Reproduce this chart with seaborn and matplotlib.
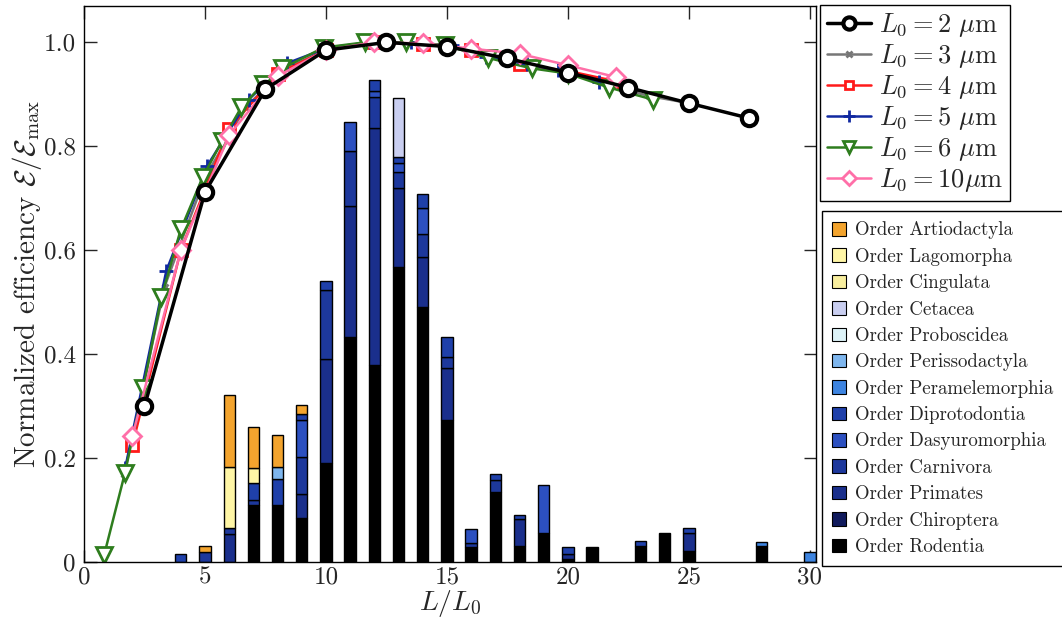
import matplotlib
matplotlib.use("Agg")
import matplotlib.pyplot as plt
from matplotlib.patches import Patch
import pandas as pd
import seaborn as sns

# ---------------- efficiency curves (x = L/L0, y = E/E_max) ----------------
x_l2 = [2.5, 5, 7.5, 10, 12.5, 15, 17.5, 20, 22.5, 25, 27.5]
y_l2 = [0.30, 0.712, 0.910, 0.985, 1.0, 0.992, 0.969, 0.942, 0.913, 0.883, 0.854]

x_l3 = [1.67, 3.33, 5.0, 6.67, 8.33, 10.0, 11.67, 13.33, 15.0, 16.67, 18.33, 20.0, 21.67, 23.33, 25.0]
y_l3 = [0.17, 0.53, 0.74, 0.875, 0.95, 0.985, 1.0, 1.0, 0.993, 0.975, 0.955, 0.943, 0.918, 0.897, 0.883]

x_l4 = [2, 4, 6, 8, 10, 12, 14, 16, 18, 20, 22]
y_l4 = [0.225, 0.60, 0.834, 0.94, 0.985, 1.0, 0.997, 0.985, 0.958, 0.945, 0.925]

x_l5 = [1.7, 3.4, 5.1, 6.8, 8.4, 10.1, 11.8, 13.5, 15.2, 16.6, 18.3, 19.6, 21.3]
y_l5 = [0.18, 0.56, 0.763, 0.89, 0.96, 0.99, 1.0, 1.0, 0.994, 0.972, 0.958, 0.946, 0.923]

x_l6 = [0.83, 1.69, 2.45, 3.2, 4.0, 4.9, 5.7, 6.5, 7.4, 8.2, 9.9, 11.6, 13.3, 14.9, 16.7, 18.5, 20.0, 21.7, 23.5]
y_l6 = [0.013, 0.171, 0.335, 0.51, 0.64, 0.74, 0.81, 0.875, 0.92, 0.95, 0.99, 1.0, 1.0, 0.995, 0.97, 0.95, 0.94, 0.913, 0.89]

x_l10 = [2, 4, 6, 8, 10, 12, 14, 16, 18, 20, 22]
y_l10 = [0.242, 0.60, 0.822, 0.935, 0.985, 1.0, 0.998, 0.988, 0.978, 0.956, 0.933]

# ---------------- mammal orders histogram (stacked, x = 4 ... 30) ----------------
bar_x = list(range(4, 31))
orders = ["Artiodactyla", "Lagomorpha", "Cingulata", "Cetacea", "Proboscidea",
          "Perissodactyla", "Peramelemorphia", "Diprotodontia", "Dasyuromorphia",
          "Carnivora", "Primates", "Chiroptera", "Rodentia"]
order_colors = ["#F3A42E", "#FFF6A6", "#F8EE9E", "#C9CEF0", "#DDF3F8",
                "#7EB6EE", "#3D84E0", "#1F40AA", "#2C50C0",
                "#1D389C", "#1A2F8C", "#101A5C", "#000000"]

#                 4      5      6      7      8      9      10     11     12     13     14     15     16     17     18     19     20     21  22  23     24     25     26 27 28     29 30
artiodactyla = [0,     0.011, 0.138, 0.080, 0.061, 0.018, 0,     0,     0,     0,     0,     0,     0,     0,     0,     0,     0,     0,  0,  0,     0,     0,     0, 0, 0,     0, 0]
lagomorpha   = [0,     0,     0.118, 0.028, 0,     0,     0,     0,     0,     0,     0,     0,     0,     0,     0,     0,     0,     0,  0,  0,     0,     0,     0, 0, 0,     0, 0]
cingulata    = [0] * 27
cetacea      = [0,     0,     0,     0,     0,     0,     0,     0,     0,     0.113, 0,     0,     0,     0,     0,     0,     0,     0,  0,  0,     0,     0,     0, 0, 0,     0, 0]
proboscidea  = [0] * 27
perisso      = [0,     0,     0,     0,     0.023, 0,     0,     0,     0,     0,     0,     0,     0,     0,     0,     0,     0,     0,  0,  0,     0,     0,     0, 0, 0,     0, 0]
peramele     = [0,     0,     0,     0,     0,     0,     0,     0,     0,     0,     0,     0,     0,     0,     0,     0,     0,     0,  0,  0,     0,     0,     0, 0, 0.008, 0, 0.02]
diproto      = [0.015, 0,     0,     0.032, 0.050, 0.011, 0.017, 0,     0.021, 0.012, 0.027, 0.039, 0,     0.012, 0.007, 0,     0.014, 0,  0,  0.010, 0,     0.010, 0, 0, 0,     0, 0]
dasyuro      = [0,     0,     0,     0,     0,     0.071, 0,     0.056, 0.012, 0.017, 0.050, 0,     0.027, 0,     0,     0.093, 0,     0,  0,  0,     0,     0,     0, 0, 0,     0, 0]
carnivora    = [0,     0.020, 0.012, 0.010, 0,     0.072, 0.133, 0.105, 0.059, 0.031, 0.044, 0.021, 0.008, 0.023, 0,     0,     0,     0,  0,  0,     0,     0,     0, 0, 0,     0, 0]
primates     = [0,     0,     0.053, 0,     0,     0.045, 0.200, 0.252, 0.455, 0.152, 0.097, 0.100, 0,     0,     0.053, 0,     0.010, 0,  0,  0,     0,     0.034, 0, 0, 0,     0, 0]
chiroptera   = [0] * 27
rodentia     = [0,     0,     0,     0.110, 0.110, 0.085, 0.190, 0.433, 0.380, 0.567, 0.490, 0.273, 0.029, 0.135, 0.030, 0.055, 0.005, 0.028, 0, 0.030, 0.055, 0.022, 0, 0, 0.030, 0, 0]

order_values = [artiodactyla, lagomorpha, cingulata, cetacea, proboscidea, perisso,
                peramele, diproto, dasyuro, carnivora, primates, chiroptera, rodentia]

bars = pd.DataFrame(
    [(x, "Order " + name, v)
     for name, vals in zip(orders, order_values)
     for x, v in zip(bar_x, vals)],
    columns=["x", "order", "value"],
)
labels = ["Order " + o for o in orders]
palette = dict(zip(labels, order_colors))

# ---------------- style ----------------
sns.set_style("ticks")
plt.rcParams.update({
    "font.family": "serif",
    "font.serif": ["cmr10", "DejaVu Serif"],
    "mathtext.fontset": "cm",
    "axes.formatter.use_mathtext": True,
    "axes.edgecolor": "black",
    "axes.linewidth": 1.0,
})

fig = plt.figure(figsize=(10.62, 6.25), dpi=100)
ax = fig.add_axes([84 / 1062, 1 - 562 / 625, (816 - 84) / 1062, (562 - 6) / 625])

sns.histplot(data=bars, x="x", weights="value", hue="order", hue_order=labels,
             multiple="stack", discrete=True, shrink=0.47, palette=palette,
             edgecolor="black", linewidth=1.0, alpha=1, legend=False, ax=ax)
# empty layers should not leave outlines on the axis
for p in ax.patches:
    if p.get_height() <= 0:
        p.set_linewidth(0)

common = dict(ax=ax, linewidth=1.8, markeredgewidth=2.0, markerfacecolor="white")
sns.lineplot(x=x_l3, y=y_l3, color="#777777", marker="x", markersize=5,
             markeredgecolor="#777777", label=r"$L_0 = 3\ \mu\mathrm{m}$", **common)
sns.lineplot(x=x_l4, y=y_l4, color="#FF1A1A", marker="s", markersize=8,
             markeredgecolor="#FF1A1A", label=r"$L_0 = 4\ \mu\mathrm{m}$", **common)
sns.lineplot(x=x_l5, y=y_l5, color="#1028A0", marker="+", markersize=10,
             markeredgecolor="#1028A0", label=r"$L_0 = 5\ \mu\mathrm{m}$", **common)
sns.lineplot(x=x_l6, y=y_l6, color="#2E7D1E", marker="v", markersize=11,
             markeredgecolor="#2E7D1E", label=r"$L_0 = 6\ \mu\mathrm{m}$", **common)
sns.lineplot(x=x_l10, y=y_l10, color="#FF6FA8", marker="D", markersize=9,
             markeredgecolor="#FF6FA8", label=r"$L_0 = 10\mu\mathrm{m}$", **common)
sns.lineplot(x=x_l2, y=y_l2, ax=ax, color="black", linewidth=2.5, marker="o",
             markersize=11, markeredgewidth=3.0, markeredgecolor="black",
             markerfacecolor="white", label=r"$L_0 = 2\ \mu\mathrm{m}$")
if ax.get_legend() is not None:
    ax.get_legend().remove()

ax.set_xlim(0, 30.25)
ax.set_ylim(0, 1.07)
ax.set_xticks([0, 5, 10, 15, 20, 25, 30])
ax.set_xticklabels(["0", "5", "10", "15", "20", "25", "30"])
ax.set_yticks([0, 0.2, 0.4, 0.6, 0.8, 1.0])
ax.set_yticklabels(["0", "0.2", "0.4", "0.6", "0.8", "1.0"])
ax.tick_params(direction="in", top=True, right=True, length=9, width=1.0,
               labelsize=18)
ax.tick_params(axis="x", pad=3)
ax.tick_params(axis="y", pad=6)
ax.set_xlabel(r"$L/L_0$", fontsize=20, labelpad=0)
ax.set_ylabel(r"Normalized efficiency $\mathcal{E}/\mathcal{E}_{\max}$", fontsize=21, labelpad=0)
for s in ax.spines.values():
    s.set_visible(True)
    s.set_color("black")

# curve legend
handles, hlabels = ax.get_legend_handles_labels()
lookup = dict(zip(hlabels, handles))
curve_order = [r"$L_0 = 2\ \mu\mathrm{m}$", r"$L_0 = 3\ \mu\mathrm{m}$",
               r"$L_0 = 4\ \mu\mathrm{m}$", r"$L_0 = 5\ \mu\mathrm{m}$",
               r"$L_0 = 6\ \mu\mathrm{m}$", r"$L_0 = 10\mu\mathrm{m}$"]
leg1 = fig.legend([lookup[l] for l in curve_order], curve_order,
                  loc="upper left", bbox_to_anchor=(820 / 1062, 1 - 5 / 625),
                  fontsize=19, frameon=True, fancybox=False, edgecolor="black",
                  framealpha=1, handlelength=1.7, labelspacing=0.12,
                  borderpad=0.25, handletextpad=0.3, borderaxespad=0,
                  markerscale=0.8)
leg1.get_frame().set_linewidth(1.0)

# order legend
patches = [Patch(facecolor=palette[l], edgecolor="black", linewidth=0.8) for l in labels]
leg2 = fig.legend(patches, labels, loc="upper left",
                  bbox_to_anchor=(822 / 1062, 1 - 211 / 625),
                  fontsize=13.6, frameon=True, fancybox=False, edgecolor="black",
                  framealpha=1, handlelength=0.72, handleheight=0.72,
                  labelspacing=0.445, borderpad=0.55, handletextpad=0.5,
                  borderaxespad=0)
leg2.get_frame().set_linewidth(1.0)

fig.savefig("out.png", dpi=100)
